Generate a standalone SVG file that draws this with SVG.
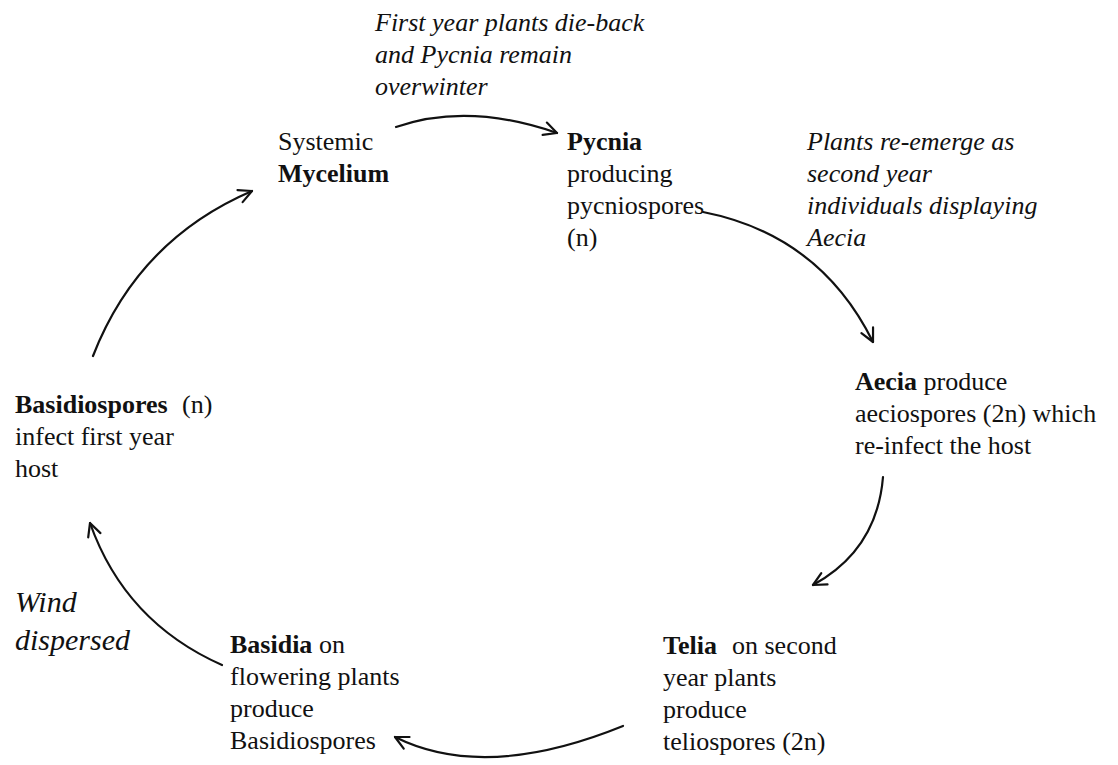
<svg xmlns="http://www.w3.org/2000/svg" width="1118" height="765" viewBox="0 0 1118 765">
<defs>
<marker id="ah" markerUnits="userSpaceOnUse" markerWidth="20" markerHeight="20" refX="0" refY="0" viewBox="-15 -10 20 20" orient="auto">
<path d="M-13,-6.5 L0,0 L-13,6.5" fill="none" stroke="#111" stroke-width="2.2" stroke-linecap="round" stroke-linejoin="round"/>
</marker>
</defs>
<rect width="1118" height="765" fill="#fff"/>
<g id="connectors" fill="none" stroke="#111" stroke-width="2.2" stroke-linecap="round">
<path d="M93,356 Q138,240 252,191" marker-end="url(#ah)"/>
<path d="M396,127 Q468,102 557,133" marker-end="url(#ah)"/>
<path d="M703,212 Q820,235 873,342" marker-end="url(#ah)"/>
<path d="M883,477 Q877,550 813,585" marker-end="url(#ah)"/>
<path d="M623,726 Q485,782 395,737" marker-end="url(#ah)"/>
<path d="M222,665 Q125,622 90,523" marker-end="url(#ah)"/>
</g>
<g font-family="Liberation Serif, serif" font-size="26" fill="#111">
<g id="label-overwinter" font-style="italic">
<text x="375" y="31">First year plants die-back</text>
<text x="375" y="63">and Pycnia remain</text>
<text x="375" y="95">overwinter</text>
</g>
<g id="node-mycelium">
<text x="278" y="150">Systemic</text>
<text font-weight="bold" x="278" y="182">Mycelium</text>
</g>
<g id="node-pycnia">
<text font-weight="bold" x="567" y="150">Pycnia</text>
<text x="567" y="182">producing</text>
<text x="567" y="214">pycniospores</text>
<text x="567" y="246">(n)</text>
</g>
<g id="label-reemerge" font-style="italic">
<text x="807" y="150">Plants re-emerge as</text>
<text x="807" y="182">second year</text>
<text x="807" y="214">individuals displaying</text>
<text x="807" y="246">Aecia</text>
</g>
<g id="node-aecia">
<text x="855" y="390"><tspan font-weight="bold">Aecia</tspan> produce</text>
<text x="855" y="422">aeciospores (2n) which</text>
<text x="855" y="454">re-infect the host</text>
</g>
<g id="node-telia">
<text x="663" y="654"><tspan font-weight="bold">Telia</tspan><tspan x="732">on second</tspan></text>
<text x="663" y="686">year plants</text>
<text x="663" y="718">produce</text>
<text x="663" y="750">teliospores (2n)</text>
</g>
<g id="node-basidia">
<text x="230" y="653"><tspan font-weight="bold">Basidia</tspan> on</text>
<text x="230" y="685">flowering plants</text>
<text x="230" y="717">produce</text>
<text x="230" y="749">Basidiospores</text>
</g>
<g id="node-basidiospores">
<text x="15" y="413"><tspan font-weight="bold">Basidiospores</tspan><tspan x="182">(n)</tspan></text>
<text x="15" y="445">infect first year</text>
<text x="15" y="477">host</text>
</g>
<g id="label-wind" font-style="italic" font-size="30">
<text x="15" y="612">Wind</text>
<text x="15" y="650">dispersed</text>
</g>
</g>
</svg>
